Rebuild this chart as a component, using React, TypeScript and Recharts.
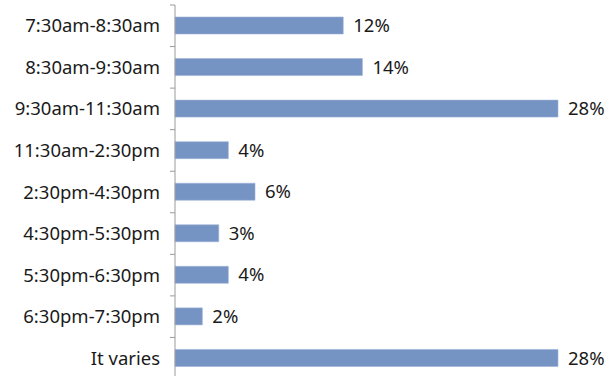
import React from "react";
import { BarChart, Bar, XAxis, YAxis, LabelList } from "recharts";

const slots = [
  "7:30am-8:30am",
  "8:30am-9:30am",
  "9:30am-11:30am",
  "11:30am-2:30pm",
  "2:30pm-4:30pm",
  "4:30pm-5:30pm",
  "5:30pm-6:30pm",
  "6:30pm-7:30pm",
  "It varies",
];
const shares = [12.3, 13.7, 28, 3.9, 5.85, 3.2, 3.9, 2.0, 28];
const shareLabels = ["12%", "14%", "28%", "4%", "6%", "3%", "4%", "2%", "28%"];

const data = slots.map((slot, i) => ({ slot, share: shares[i], label: shareLabels[i] }));

const W = 608;
const TOP = 5;
const H = TOP + 374;
const STEP = (H - TOP) / slots.length;
const FONT = "Noto Sans, sans-serif";

function SlotTick(props: any) {
  const { x, y, payload } = props;
  const top = y - STEP / 2;
  return (
    <g>
      <line x1={x - 5} x2={x} y1={top} y2={top} stroke="#9a9a9a" strokeWidth={1} />
      <text x={x - 15} y={y} dy={6.5} textAnchor="end" fontSize={18.5} fill="#1a1a1a" fontFamily={FONT}>
        {payload.value}
      </text>
    </g>
  );
}

export default function App() {
  return (
    <div style={{ position: "fixed", top: 0, left: 0, width: W, height: 376, overflow: "hidden", background: "#fff" }}>
      <BarChart
        width={W}
        height={H}
        data={data}
        layout="vertical"
        margin={{ top: TOP, right: 50, bottom: 0, left: 0 }}
      >
        <XAxis type="number" domain={[0, 28]} hide />
        <YAxis
          type="category"
          dataKey="slot"
          width={175}
          tickSize={0}
          tickMargin={0}
          axisLine={{ stroke: "#9a9a9a" }}
          tick={<SlotTick />}
          interval={0}
        />
        <Bar dataKey="share" fill="#7593c3" stroke="#9fb4d8" strokeWidth={0.6} barSize={17} isAnimationActive={false}>
          <LabelList
            dataKey="label"
            position="right"
            offset={10}
            fontSize={18.5}
            fill="#1a1a1a"
            fontFamily={FONT}
          />
        </Bar>
      </BarChart>
    </div>
  );
}
